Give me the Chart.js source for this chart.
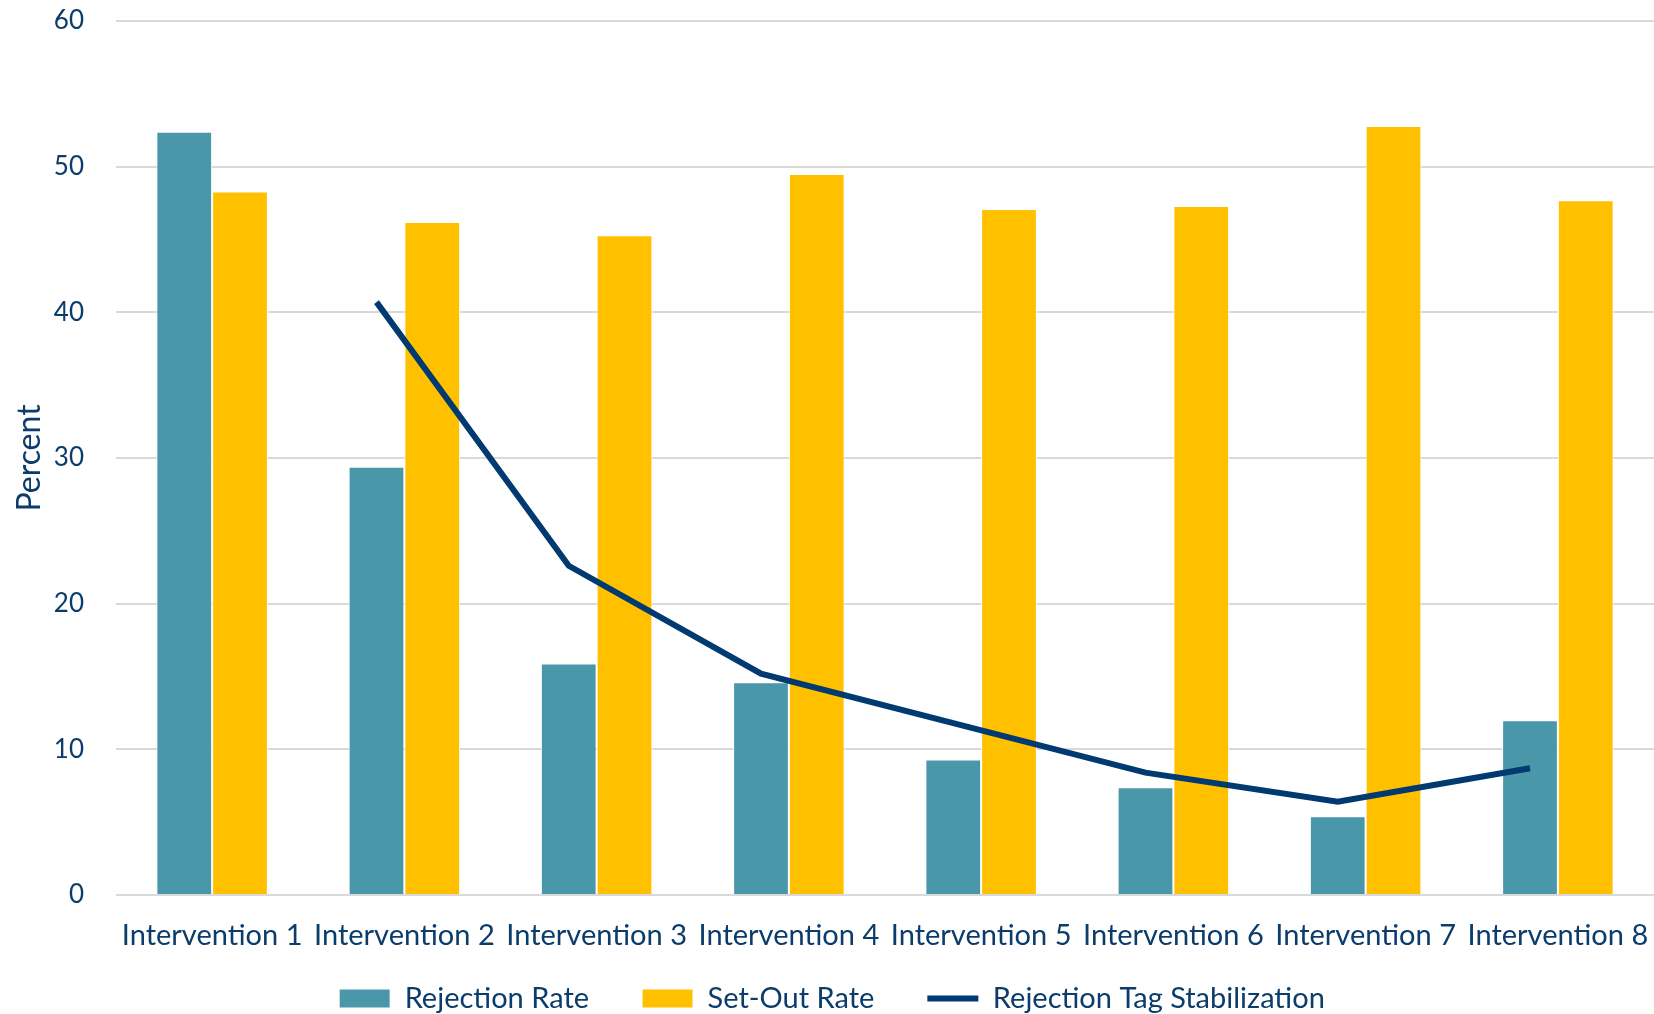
<!DOCTYPE html>
<html>
<head>
<meta charset="utf-8">
<script src="https://cdn.jsdelivr.net/npm/chart.js@4/dist/chart.umd.min.js"></script>
<style>
  html, body { margin: 0; padding: 0; background: #fff; }
  #wrap { width: 1654px; height: 1014px; }
</style>
</head>
<body>
<div id="wrap"><canvas id="myChart"></canvas></div>
<script>
"use strict";

const categories = [
  "Intervention 1", "Intervention 2", "Intervention 3", "Intervention 4",
  "Intervention 5", "Intervention 6", "Intervention 7", "Intervention 8",
];
const rejectionRate = [52.4, 29.4, 15.9, 14.6, 9.3, 7.4, 5.4, 12.0];
const setOutRate = [48.3, 46.2, 45.3, 49.5, 47.1, 47.3, 52.8, 47.7];
const tagStabilization = [null, 40.7, 22.6, 15.2, 11.8, 8.4, 6.4, 8.7];
const yTicks = [0, 10, 20, 30, 40, 50, 60];

const navy = "#0B3C6B";
const fontFamily = "Lato, 'Open Sans', sans-serif";

// line points sit over the Rejection Rate bar of each group (like the source)
const alignLine = {
  id: "alignLine",
  afterDatasetsUpdate: (chart) => {
    const bars = chart.getDatasetMeta(0).data;
    chart.getDatasetMeta(2).data.forEach((pt, i) => {
      pt.x = bars[i].x;
    });
  },
};

// legend keeps its wide item gaps but sits closer to the tick labels
const legendSpacing = {
  id: "legendSpacing",
  beforeLayout: (chart) => {
    const legend = chart.legend;
    if (!legend || legend._patched) return;
    const fit = legend.fit;
    legend.fit = function () {
      fit.call(this);
      this.height = 61;
    };
    legend._patched = true;
  },
  afterLayout: (chart) => {
    chart.legend.top = chart.chartArea.bottom + 36;
    chart.legend.bottom = chart.height;
  },
};

const ctx = document.getElementById("myChart").getContext("2d");

const chartConfig = {
  type: "bar",
  data: {
    labels: categories,
    datasets: [
      {
        label: "Rejection Rate",
        data: rejectionRate,
        backgroundColor: "#4A97AA",
        borderColor: "#ffffff",
        borderWidth: 1,
        pointStyle: "rect",
        categoryPercentage: 0.58,
        barPercentage: 1,
        order: 1,
      },
      {
        label: "Set-Out Rate",
        data: setOutRate,
        backgroundColor: "#FFC000",
        borderColor: "#ffffff",
        borderWidth: 1,
        pointStyle: "rect",
        categoryPercentage: 0.58,
        barPercentage: 1,
        order: 1,
      },
      {
        type: "line",
        label: "Rejection Tag Stabilization",
        data: tagStabilization,
        borderColor: "#003A70",
        backgroundColor: "#003A70",
        borderWidth: 6,
        pointRadius: 0,
        pointStyle: "line",
        tension: 0,
        order: 0,
      },
    ],
  },
  options: {
    responsive: true,
    maintainAspectRatio: false,
    animation: false,
    layout: {
      padding: { top: 0, right: 0, bottom: 0, left: 10 },
    },
    plugins: {
      legend: {
        position: "bottom",
        labels: {
          usePointStyle: true,
          pointStyleWidth: 51,
          boxHeight: 19,
          padding: 53,
          color: navy,
          font: { size: 29, family: fontFamily },
          sort: (a, b) => a.datasetIndex - b.datasetIndex,
        },
      },
      tooltip: { enabled: false },
    },
    scales: {
      x: {
        offset: true,
        grid: { display: false, drawTicks: false },
        border: { display: false },
        ticks: {
          autoSkip: false,
          maxRotation: 0,
          padding: 23,
          color: navy,
          font: { size: 29, family: fontFamily },
        },
        afterFit: (axis) => {
          axis.height = 58;
          axis.paddingLeft = 0;
          axis.paddingRight = 0;
        },
      },
      y: {
        min: yTicks[0],
        max: yTicks[yTicks.length - 1],
        afterBuildTicks: (axis) => {
          axis.ticks = yTicks.map((v) => ({ value: v }));
        },
        grid: { color: "#D9D9D9", lineWidth: 2, drawTicks: false },
        border: { display: false },
        ticks: {
          padding: 32,
          color: navy,
          font: { size: 26, family: fontFamily },
        },
        title: {
          display: true,
          text: "Percent",
          color: navy,
          padding: 0,
          font: { size: 32, family: fontFamily },
        },
        afterFit: (axis) => {
          axis.width = 106;
          axis.paddingTop = 21;
          axis.paddingBottom = 0;
        },
      },
    },
  },
  plugins: [alignLine, legendSpacing],
};

new Chart(ctx, chartConfig);
</script>
</body>
</html>
